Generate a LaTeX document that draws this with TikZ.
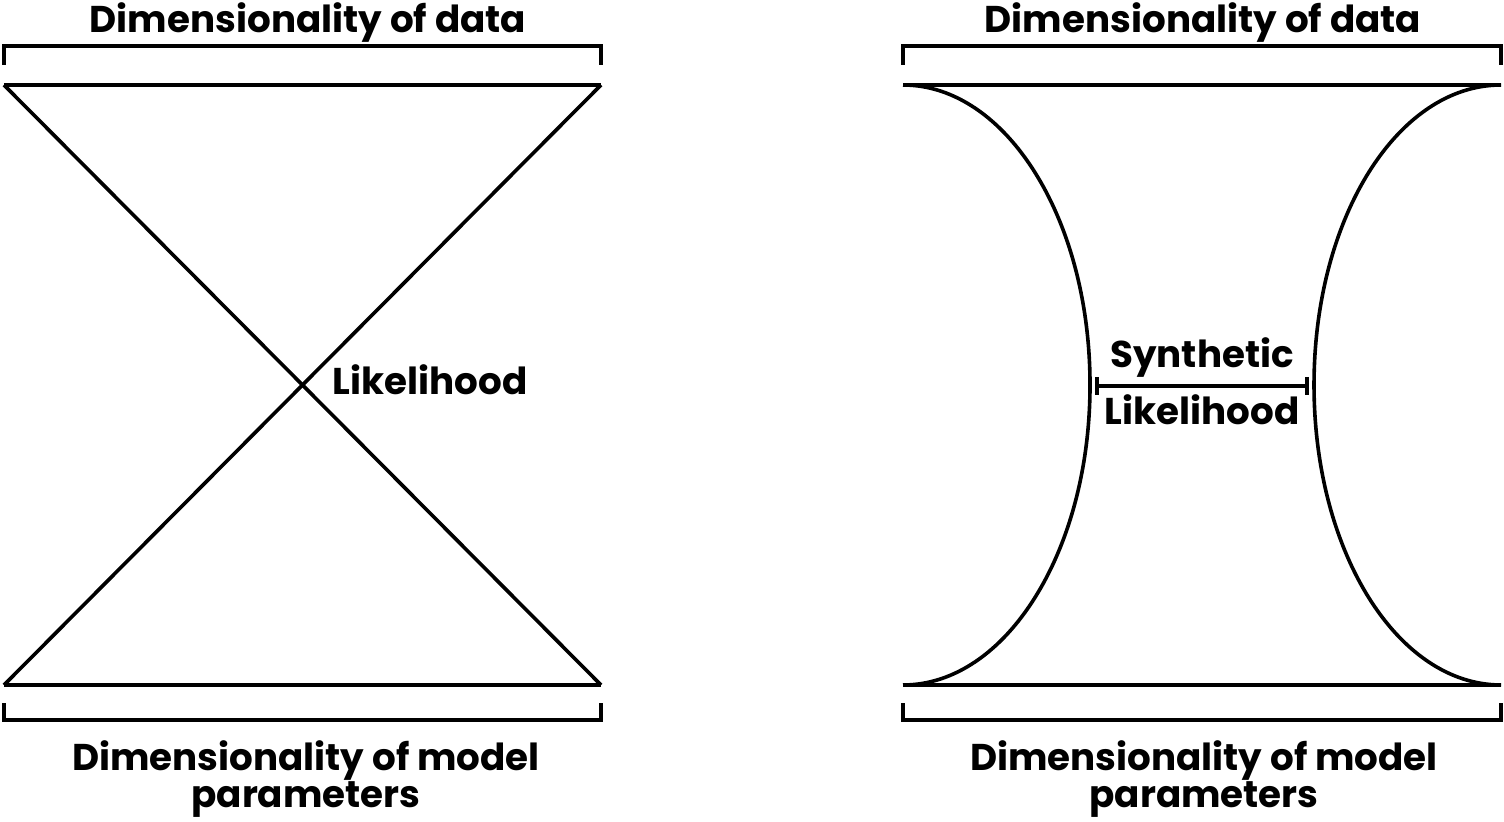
\documentclass[tikz,border=0pt]{standalone}
\usepackage{fontspec}
\setmainfont{Poppins}
\usetikzlibrary{positioning}

\begin{document}
\begin{tikzpicture}[x=0.01cm, y=-0.01cm, line width=0.036cm, line cap=butt]

    % Define styles
    \tikzstyle{lbl} = [inner sep=0pt, anchor=base, font=\fontsize{10.6}{9.4}\selectfont\bfseries]
    \tikzstyle{bracket} = [line join=miter]

    \useasboundingbox (0,0) rectangle (1504,822);

    % LEFT: LIKELIHOOD
    \coordinate (l_tl) at (4,85);
    \coordinate (l_tr) at (601,85);
    \coordinate (l_bl) at (4,685);
    \coordinate (l_br) at (601,685);

    \node (l_data) [lbl] at (308,33) {Dimensionality of data};
    \node (l_like) [lbl, anchor=base west] at (331,395) {Likelihood};
    \node (l_param1) [lbl] at (306,770) {Dimensionality of model};
    \node (l_param2) [lbl] at (306,807) {parameters};

    \draw[bracket] (4,65) -- (4,46) -- (601,46) -- (601,65);
    \draw (l_tl) -- (l_tr);
    \draw (l_bl) -- (l_br);
    \draw (l_tl) -- (l_br);
    \draw (l_tr) -- (l_bl);
    \draw[bracket] (4,703) -- (4,720) -- (601,720) -- (601,703);

    % RIGHT: SYNTHETIC LIKELIHOOD
    \coordinate (r_tl) at (903,85);
    \coordinate (r_tr) at (1501,85);
    \coordinate (r_bl) at (903,685);
    \coordinate (r_br) at (1501,685);
    \coordinate (r_ml) at (1090,385);
    \coordinate (r_mr) at (1314,385);

    \node (r_data) [lbl] at (1203,33) {Dimensionality of data};
    \node (r_syn) [lbl] at (1202,368) {Synthetic};
    \node (r_like) [lbl] at (1202,425) {Likelihood};
    \node (r_param1) [lbl] at (1204,770) {Dimensionality of model};
    \node (r_param2) [lbl] at (1204,807) {parameters};

    \draw[bracket] (903,65) -- (903,46) -- (1501,46) -- (1501,65);
    \draw (r_tl) -- (r_tr);
    \draw (r_bl) -- (r_br);
    \draw (r_tl) .. controls (1006,85) and (1090,219) .. (r_ml)
                 .. controls (1090,551) and (1006,685) .. (r_bl);
    \draw (r_tr) .. controls (1397,85) and (1314,219) .. (r_mr)
                 .. controls (1314,551) and (1397,685) .. (r_br);
    \draw[bracket] (903,703) -- (903,720) -- (1501,720) -- (1501,703);

    % Width bar
    \draw (1097,377) -- (1097,395);
    \draw (1307,377) -- (1307,395);
    \draw (1097,386) -- (1307,386);

\end{tikzpicture}
\end{document}
